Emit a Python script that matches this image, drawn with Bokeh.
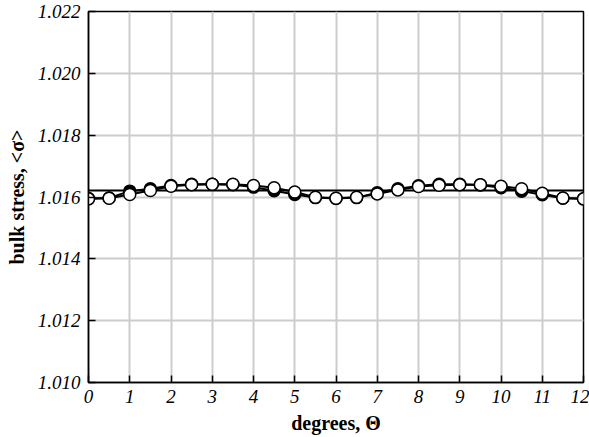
from bokeh.plotting import figure
from bokeh.models import Range1d, FixedTicker, PrintfTickFormatter
from bokeh.embed import file_html
from bokeh.resources import INLINE

# data
degrees = [0, 0.5, 1, 1.5, 2, 2.5, 3, 3.5, 4, 4.5, 5, 5.5, 6,
           6.5, 7, 7.5, 8, 8.5, 9, 9.5, 10, 10.5, 11, 11.5, 12]
filled_series = [1.01595, 1.01597, 1.01619, 1.01627, 1.01637, 1.01641, 1.01641,
                 1.01640, 1.01632, 1.01620, 1.01608, 1.01598, 1.01595,
                 1.01598, 1.01614, 1.01627, 1.01636, 1.01641, 1.01641,
                 1.01639, 1.01630, 1.01619, 1.01607, 1.01596, 1.01594]
open_series = [1.01594, 1.01596, 1.01608, 1.01621, 1.01635, 1.01640, 1.01641,
               1.01641, 1.01637, 1.01630, 1.01616, 1.01599, 1.01596,
               1.01599, 1.01610, 1.01623, 1.01634, 1.01638, 1.01640,
               1.01640, 1.01635, 1.01627, 1.01612, 1.01597, 1.01594]
mean_level = 1.01621
x_ticks = [0, 1, 2, 3, 4, 5, 6, 7, 8, 9, 10, 11, 12]
y_ticks = [1.010, 1.012, 1.014, 1.016, 1.018, 1.020, 1.022]

p = figure(width=589, height=437, output_backend="svg", toolbar_location=None,
           x_range=Range1d(x_ticks[0], x_ticks[-1]),
           y_range=Range1d(y_ticks[0], y_ticks[-1]),
           min_border_left=88, min_border_right=6,
           min_border_top=11, min_border_bottom=55)

p.background_fill_color = "white"
p.border_fill_color = "white"
p.outline_line_color = "black"
p.outline_line_width = 1.5

p.axis.axis_line_color = "black"
p.axis.axis_line_width = 1.5
p.axis.major_tick_in = 7
p.axis.major_tick_out = 0
p.axis.major_tick_line_color = "black"
p.axis.major_tick_line_width = 1.5
p.axis.minor_tick_line_color = None
p.axis.major_label_text_font = "Liberation Serif"
p.axis.major_label_text_font_style = "italic"
p.axis.major_label_text_font_size = "19px"
p.axis.major_label_text_color = "black"
p.axis.axis_label_text_font = "Liberation Serif"
p.axis.axis_label_text_font_style = "bold"
p.axis.axis_label_text_font_size = "20px"
p.axis.axis_label_text_color = "black"

p.xaxis.ticker = FixedTicker(ticks=x_ticks)
p.yaxis.ticker = FixedTicker(ticks=y_ticks)
p.yaxis.formatter = PrintfTickFormatter(format="%.3f")
p.xaxis.major_label_standoff = 7
p.yaxis.major_label_standoff = 8
p.xaxis.axis_label = "degrees, \u0398"
p.yaxis.axis_label = "bulk stress, <\u03c3>"
p.xaxis.axis_label_standoff = 6
p.yaxis.axis_label_standoff = 7

p.xgrid.grid_line_color = "#cccccc"
p.ygrid.grid_line_color = "#cccccc"
p.xgrid.grid_line_width = 2
p.ygrid.grid_line_width = 2

# horizontal reference level spanning the data extent
p.line([degrees[0], degrees[-1]], [mean_level, mean_level],
       line_color="black", line_width=2)

p.line(degrees, filled_series, line_color="black", line_width=2)
p.line(degrees, open_series, line_color="black", line_width=2)
p.scatter(degrees, filled_series, marker="circle", size=12,
          fill_color="black", line_color="black", line_width=1.5)
p.scatter(degrees, open_series, marker="circle", size=12,
          fill_color="white", line_color="black", line_width=1.5)

open("out.html", "w").write(file_html(p, INLINE))
